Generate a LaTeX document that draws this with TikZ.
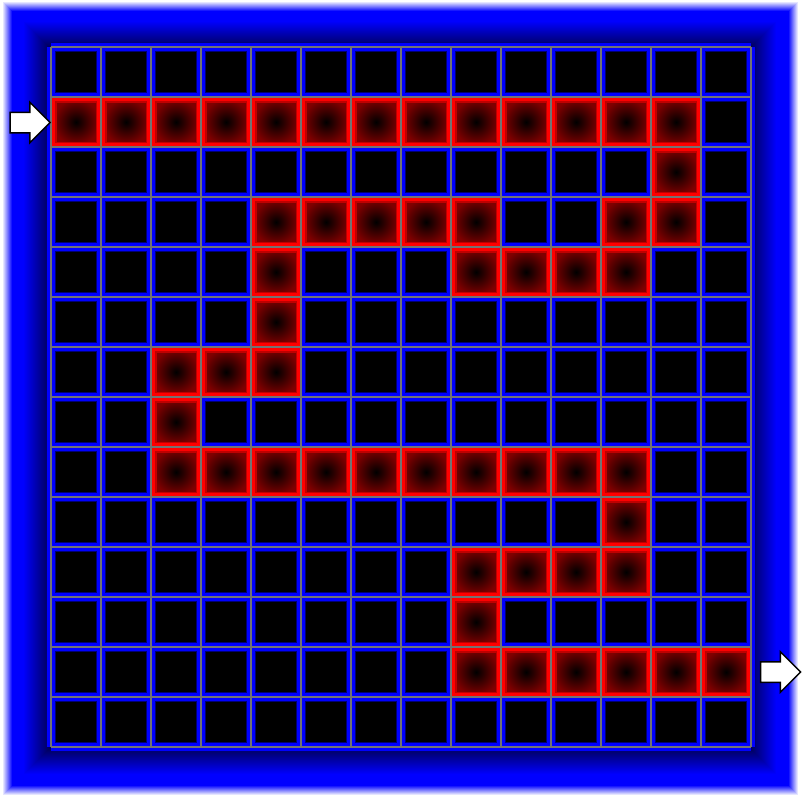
\documentclass[tikz,border=0pt]{standalone}
\usetikzlibrary{shapes.arrows}
\begin{document}
\begin{tikzpicture}[x=1pt, y=-1pt]
  \tikzstyle{gate} = [draw=black, fill=white, line width=1.5pt, single arrow, single arrow head extend=10pt, minimum height=40pt, inner ysep=9.5pt, inner xsep=0pt]
  \tikzstyle{glow} = [blue!45!black, line width=10pt]
  \tikzstyle{wall} = [blue, line width=7.5pt]
  \tikzstyle{gridline} = [gray!90!black, line width=2.5pt]
  \tikzstyle{path} = [red, line width=2.5pt]

  \useasboundingbox (0,0) rectangle (802,798);
  \fill[white] (0,0) rectangle (802,798);

  % frame, soft outer edge then inner fade
  \foreach \i in {0,...,9} {
    \pgfmathsetmacro\p{10+10*\i}
    \fill[blue!\p!white] ({3+\i},{2+\i}) rectangle ({798-\i},{795-\i});
  }
  \foreach \i in {0,...,26} {
    \pgfmathsetmacro\p{100-2.5*\i}
    \fill[blue!\p!black] ({23+\i},{21+\i}) rectangle ({777-\i},{775-\i});
  }
  \fill[black] (51,47) rectangle (751,747);

  % maze cells
  \foreach \k in {0,...,14} {
    \draw[glow] ({51+50*\k},47) -- ({51+50*\k},747);
    \draw[glow] (51,{47+50*\k}) -- (751,{47+50*\k});
  }
  \foreach \k in {0,...,14} {
    \draw[wall] ({51+50*\k},47) -- ({51+50*\k},747);
    \draw[wall] (51,{47+50*\k}) -- (751,{47+50*\k});
  }
  \foreach \r/\a/\b in {1/0/12, 2/12/12, 3/4/8, 3/11/12, 4/4/4, 4/8/11, 5/4/4, 6/2/4, 7/2/2, 8/2/11, 9/11/11, 10/8/11, 11/8/8, 12/8/13} {
    \foreach \c in {\a,...,\b} {
      \shade[inner color=black, outer color=red!50!black] ({53+50*\c},{49+50*\r}) rectangle +(46,46);
      \draw[red!75!black, line width=2pt] ({55.5+50*\c},{51.5+50*\r}) rectangle +(41,41);
      \draw[path] ({53.5+50*\c},{49.5+50*\r}) rectangle +(45,45);
    }
  }
  \foreach \k in {0,...,14} {
    \draw[gridline] ({51+50*\k},47) -- ({51+50*\k},747);
    \draw[gridline] (51,{47+50*\k}) -- (751,{47+50*\k});
  }

  % entry and exit
  \node[gate] (entry) at (25,122.5) {};
  \node[gate] (exit) at (775.5,672) {};
\end{tikzpicture}
\end{document}
